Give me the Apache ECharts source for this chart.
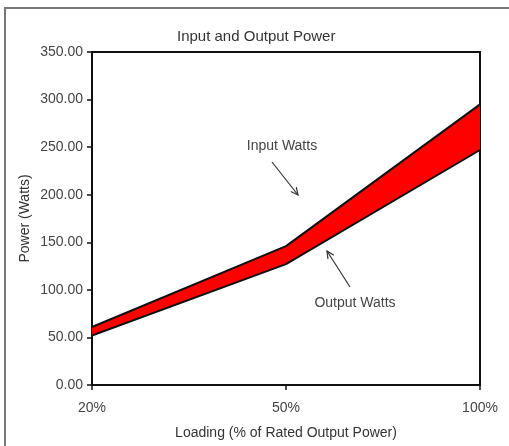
<!DOCTYPE html>
<html>
<head>
<meta charset="utf-8">
<script src="https://cdn.jsdelivr.net/npm/echarts@6/dist/echarts.min.js"></script>
<style>
html, body { margin: 0; padding: 0; background: #fff; }
#chart { width: 509px; height: 446px; }
</style>
</head>
<body>
<div id="chart"></div>
<script>
// data
var loading = ['20%', '50%', '100%'];
var inputWatts = [61, 146, 295];
var outputWatts = [52, 127, 247];
var yMin = 0, yMax = 350, yStep = 50;

// band thickness between the two curves (for the red fill)
var gap = inputWatts.map(function (v, i) { return v - outputWatts[i]; });

var font = 'Liberation Sans, Arial, sans-serif';
var chart = echarts.init(document.getElementById('chart'));

function arrow(x1, y1, x2, y2) {
	// open arrow head at (x2, y2)
	var a = Math.atan2(y2 - y1, x2 - x1), len = 8, spread = 0.45;
	return [
		{ type: 'line', shape: { x1: x1, y1: y1, x2: x2, y2: y2 }, style: { stroke: '#333', lineWidth: 1.2 } },
		{ type: 'polyline', shape: { points: [
			[x2 - len * Math.cos(a - spread), y2 - len * Math.sin(a - spread)],
			[x2, y2],
			[x2 - len * Math.cos(a + spread), y2 - len * Math.sin(a + spread)]
		] }, style: { stroke: '#333', lineWidth: 1.2, fill: null } }
	];
}

chart.setOption({
	animation: false,
	backgroundColor: '#fff',
	title: {
		text: 'Input and Output Power',
		left: 172,
		top: 24,
		textStyle: { fontFamily: font, fontSize: 15, fontWeight: 'normal', color: '#333' }
	},
	grid: {
		left: 92, right: 29, top: 52, bottom: 61,
		show: true, borderColor: '#111', borderWidth: 2
	},
	xAxis: {
		type: 'category',
		data: loading,
		boundaryGap: false,
		name: 'Loading (% of Rated Output Power)',
		nameLocation: 'middle',
		nameGap: 41,
		nameTextStyle: { fontFamily: font, fontSize: 14, color: '#333' },
		axisLine: { lineStyle: { color: '#111', width: 2 } },
		axisTick: { show: true, length: 5, lineStyle: { color: '#111', width: 1.5 } },
		axisLabel: { fontFamily: font, fontSize: 14, color: '#444', margin: 16 },
		splitLine: { show: false }
	},
	yAxis: {
		type: 'value',
		min: yMin, max: yMax, interval: yStep,
		name: 'Power (Watts)',
		nameLocation: 'middle',
		nameGap: 60,
		nameMoveOverlap: false,
		nameRotate: 90,
		nameTextStyle: { fontFamily: font, fontSize: 14, color: '#333' },
		axisLine: { show: true, lineStyle: { color: '#111', width: 2 } },
		axisTick: { show: true, length: 5, lineStyle: { color: '#111', width: 1.5 } },
		axisLabel: { fontFamily: font, fontSize: 14, color: '#444', margin: 9,
			formatter: function (v) { return v.toFixed(2); } },
		splitLine: { show: false }
	},
	series: [
		{
			name: 'base', type: 'line', stack: 'band', data: outputWatts,
			symbol: 'none', lineStyle: { opacity: 0 }, silent: true
		},
		{
			name: 'band', type: 'line', stack: 'band', data: gap,
			symbol: 'none', lineStyle: { opacity: 0 },
			areaStyle: { color: '#ff0000', opacity: 1 }, silent: true
		},
		{
			name: 'Input Watts', type: 'line', data: inputWatts, z: 5,
			symbol: 'none', lineStyle: { color: '#111', width: 2 }
		},
		{
			name: 'Output Watts', type: 'line', data: outputWatts, z: 5,
			symbol: 'none', lineStyle: { color: '#111', width: 2 }
		}
	],
	graphic: [
		{ type: 'rect', shape: { x: 5, y: 8, width: 540, height: 470 },
		  style: { stroke: '#777', lineWidth: 2, fill: null }, silent: true },
		{ type: 'text', x: 282, y: 146, style: { text: 'Input Watts', font: '14px ' + font,
		  fill: '#444', align: 'center', verticalAlign: 'middle' } },
		{ type: 'text', x: 355, y: 303, style: { text: 'Output Watts', font: '14px ' + font,
		  fill: '#444', align: 'center', verticalAlign: 'middle' } }
	].concat(arrow(272, 162, 298, 195), arrow(350, 287, 327, 251))
});
</script>
</body>
</html>
